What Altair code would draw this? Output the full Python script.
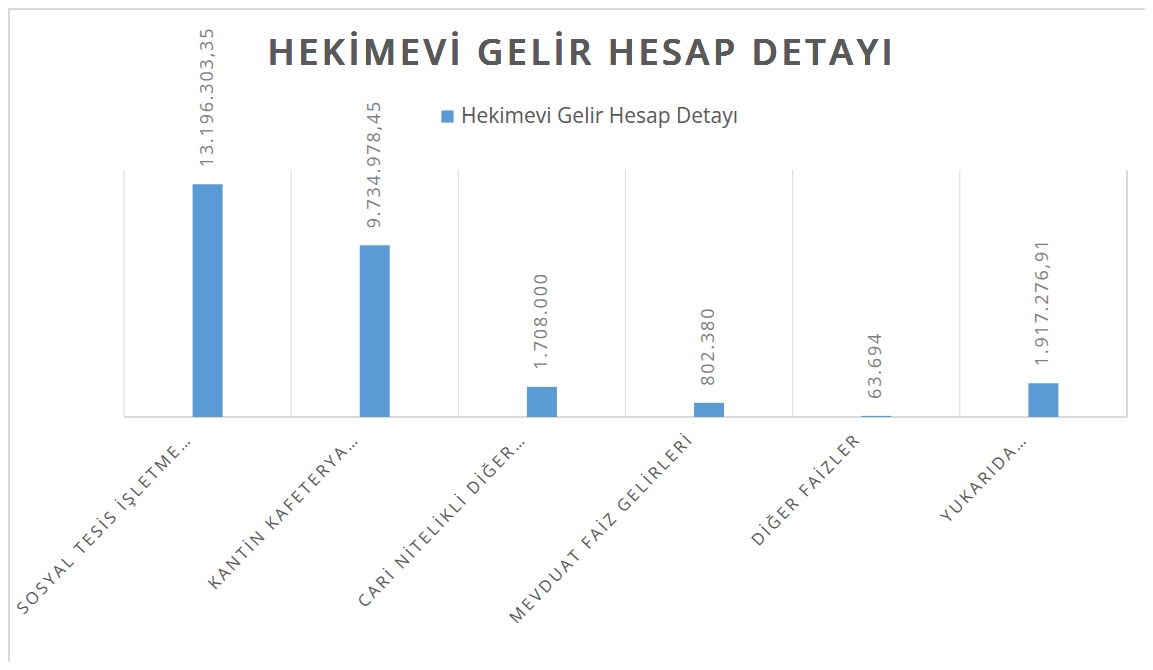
import altair as alt
import pandas as pd

categories = [
    "SOSYAL TESİS İŞLETME…",
    "KANTİN KAFETERYA…",
    "CARİ NİTELİKLİ DİĞER…",
    "MEVDUAT FAİZ GELİRLERİ",
    "DİĞER FAİZLER",
    "YUKARIDA…",
]
values = [13196303.35, 9734978.45, 1708000, 802380, 63694, 1917276.91]
value_labels = ["13.196.303,35", "9.734.978,45", "1.708.000", "802.380", "63.694", "1.917.276,91"]
series_name = "Hekimevi Gelir Hesap Detayı"
title_text = "HEKİMEVİ GELİR HESAP DETAYI"

def spaced(s, sp):
    return sp.join(list(s))

df = pd.DataFrame({
    "cat": [spaced(c, "\u2009") for c in categories],
    "value": values,
    "label": [spaced(v, "\u200a") for v in value_labels],
    "series": [series_name] * len(categories),
})

W, H = 1003, 247
font = "Open Sans"

xaxis = alt.Axis(labelAngle=-46, labelAlign="right", labelBaseline="middle",
                 labelFontSize=16.5, labelColor="#595959", labelFont=font,
                 labelPadding=21, labelOffset=-20, ticks=False, domain=False, grid=False,
                 labelLimit=500)
xscale = alt.Scale(paddingInner=0, paddingOuter=0)
yscale = alt.Scale(domain=[0, 14000000])

base = alt.Chart(df)

grid = base.mark_rule(color="#d9d9d9", strokeWidth=1).encode(
    x=alt.X("cat:N", sort=None, title=None, bandPosition=0, axis=xaxis, scale=xscale),
    y=alt.value(0), y2=alt.value(H),
)
right_rule = base.mark_rule(color="#d9d9d9", strokeWidth=1).encode(
    x=alt.value(W), y=alt.value(0), y2=alt.value(H)
)
bottom_rule = base.mark_rule(color="#d9d9d9", strokeWidth=1).encode(
    x=alt.value(0), x2=alt.value(W), y=alt.value(H)
)
border = base.mark_rect(fill=None, stroke="#d9d9d9", strokeWidth=2).encode(
    x=alt.value(-115), x2=alt.value(1060), y=alt.value(-161), y2=alt.value(520)
)

bars = base.mark_bar(width=30).encode(
    x=alt.X("cat:N", sort=None, title=None, axis=xaxis, scale=xscale),
    y=alt.Y("value:Q", scale=yscale, axis=None),
    color=alt.Color("series:N", scale=alt.Scale(range=["#5B9BD5"]),
                    legend=alt.Legend(orient="none", legendX=313, legendY=-64, title=None,
                                      symbolType="square", symbolSize=150,
                                      symbolStrokeWidth=0, labelOffset=3,
                                      labelFontSize=21, labelColor="#595959",
                                      labelFont=font, labelLimit=500)),
)
labels = base.mark_text(angle=270, align="left", baseline="middle", dx=17,
                        fontSize=18, color="#808080", font=font).encode(
    x=alt.X("cat:N", sort=None, title=None, axis=xaxis, scale=xscale),
    y=alt.Y("value:Q", scale=yscale, axis=None),
    text="label:N",
)
title = base.mark_text(fontSize=36, fontWeight=600, color="#595959", font=font,
                       align="center", baseline="middle").encode(
    x=alt.value(456), y=alt.value(-116), text=alt.value(spaced(title_text, "\u200a"))
)

chart = alt.layer(border, grid, right_rule, bottom_rule, bars, labels, title).properties(
    width=W, height=H,
    autosize=alt.AutoSizeParams(type="none"),
    padding={"left": 116, "top": 162, "right": 18, "bottom": 245},
).configure(background="white").configure_view(stroke=None)

chart.save("out.html", embed_options={"renderer": "svg", "actions": False})
